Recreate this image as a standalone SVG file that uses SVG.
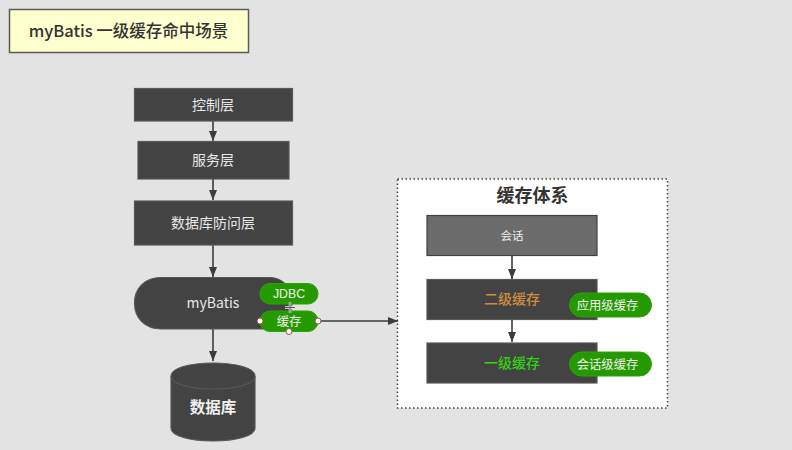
<svg xmlns="http://www.w3.org/2000/svg" width="792" height="450" viewBox="0 0 792 450">
<style>
text{font-family:"Noto Sans CJK SC","Liberation Sans",sans-serif;text-anchor:middle;dominant-baseline:central}
.dark{fill:#434343;stroke:#585858;stroke-width:1.2}
.lt{fill:#e8e8e8;font-size:14px}
.green{fill:#259a00;stroke:#2ca208;stroke-width:1}
.gt{fill:#f2f2f2;font-size:12.300px}
.line{stroke:#3c3c3c;stroke-width:1.600;fill:none}
.h{fill:#fff;stroke:#a0524a;stroke-width:1}
</style>
<defs>
<marker id="a" markerUnits="userSpaceOnUse" markerWidth="10" markerHeight="9" refX="10" refY="4.500" orient="auto"><path d="M0 0.500L10 4.500L0 8.500Z" fill="#3c3c3c"/></marker>
</defs>
<rect width="792" height="450" fill="#e3e3e3"/>
<g id="title"><rect x="9.500" y="9.500" width="239" height="43" fill="#ffffd0" stroke="#5c5c50" stroke-width="1.500"/><text x="128.500" y="29.500" font-size="16.500" font-weight="500" fill="#333">myBatis 一级缓存命中场景</text></g>
<g id="system"><rect x="397.500" y="179" width="270" height="229" fill="#fff" stroke="#444" stroke-width="1.500" stroke-dasharray="1.500 2.500"/><text x="532.500" y="194" font-size="18px" font-weight="700" fill="#333">缓存体系</text></g>
<g id="connectors">
<path class="line" marker-end="url(#a)" d="M213 121V141"/>
<path class="line" marker-end="url(#a)" d="M213 179V200"/>
<path class="line" marker-end="url(#a)" d="M213 245V277"/>
<path class="line" marker-end="url(#a)" d="M213 329V361"/>
<path class="line" marker-end="url(#a)" d="M318 321H398"/>
<path class="line" marker-end="url(#a)" d="M512 256V279"/>
<path class="line" marker-end="url(#a)" d="M512 320V342"/>
</g>
<g id="control"><rect class="dark" x="134.500" y="88.500" width="158" height="32.500"/><text class="lt" x="213" y="103.500">控制层</text></g>
<g id="service"><rect class="dark" x="138" y="141.500" width="151" height="37.500"/><text class="lt" x="213" y="159">服务层</text></g>
<g id="dao"><rect class="dark" x="134.500" y="201" width="158" height="44"/><text class="lt" x="213" y="222">数据库防问层</text></g>
<g id="mybatis"><path class="dark" d="M161 277.500H270C280 277.500 292 285 292 303S280 329 270 329H161C145 329 134.500 318 134.500 303S145 277.500 161 277.500Z"/><text class="lt" x="213" y="302">myBatis</text></g>
<g id="db"><path class="dark" d="M171 376C171 368 190 363 213 363S255 368 255 376V428C255 436 236 441 213 441S171 436 171 428Z"/><path class="dark" d="M171 376C171 384 190 389 213 389S255 384 255 376" style="fill:none"/><text x="213" y="406" font-size="15.500" font-weight="700" fill="#f0f0f0">数据库</text></g>
<g id="jdbc"><rect class="green" x="260" y="283.500" width="58" height="20.500" rx="10"/><text class="gt" x="289" y="293.500" style="font-family:'Liberation Sans','Noto Sans',sans-serif">JDBC</text></g>
<g id="cache"><rect class="green" x="260" y="311" width="58" height="20.500" rx="10"/><text class="gt" x="289" y="320.500">缓存</text>
<circle class="h" cx="260" cy="321" r="3"/><circle class="h" cx="318" cy="321" r="3"/><circle class="h" cx="289" cy="331.500" r="3"/></g>
<g id="cursor"><path d="M290 302V313M285 307.500H295" stroke="#eee" stroke-width="2.500" fill="none"/><path d="M290 302V313M285 307.500H295" stroke="#555" stroke-width="1" fill="none"/></g>
<g id="session"><rect x="427" y="215.500" width="170" height="40" fill="#6c6c6c" stroke="#404040" stroke-width="1.200"/><text x="512" y="234.500" font-size="11.500px" fill="#eee">会话</text></g>
<g id="l2"><rect class="dark" x="427" y="279.500" width="170" height="40"/><text x="512" y="298" font-size="14px" font-weight="500" fill="#d18b3f">二级缓存</text></g>
<g id="l1"><rect class="dark" x="427" y="343" width="170" height="40"/><text x="512" y="361.500" font-size="14px" font-weight="500" fill="#35d015">一级缓存</text></g>
<g id="app"><rect class="green" x="569.500" y="293" width="82" height="24" rx="12"/><text class="gt" x="607.500" y="304.500">应用级缓存</text></g>
<g id="sess"><rect class="green" x="569.500" y="352" width="82" height="24" rx="12"/><text class="gt" x="607.500" y="363.500">会话级缓存</text></g>
</svg>
